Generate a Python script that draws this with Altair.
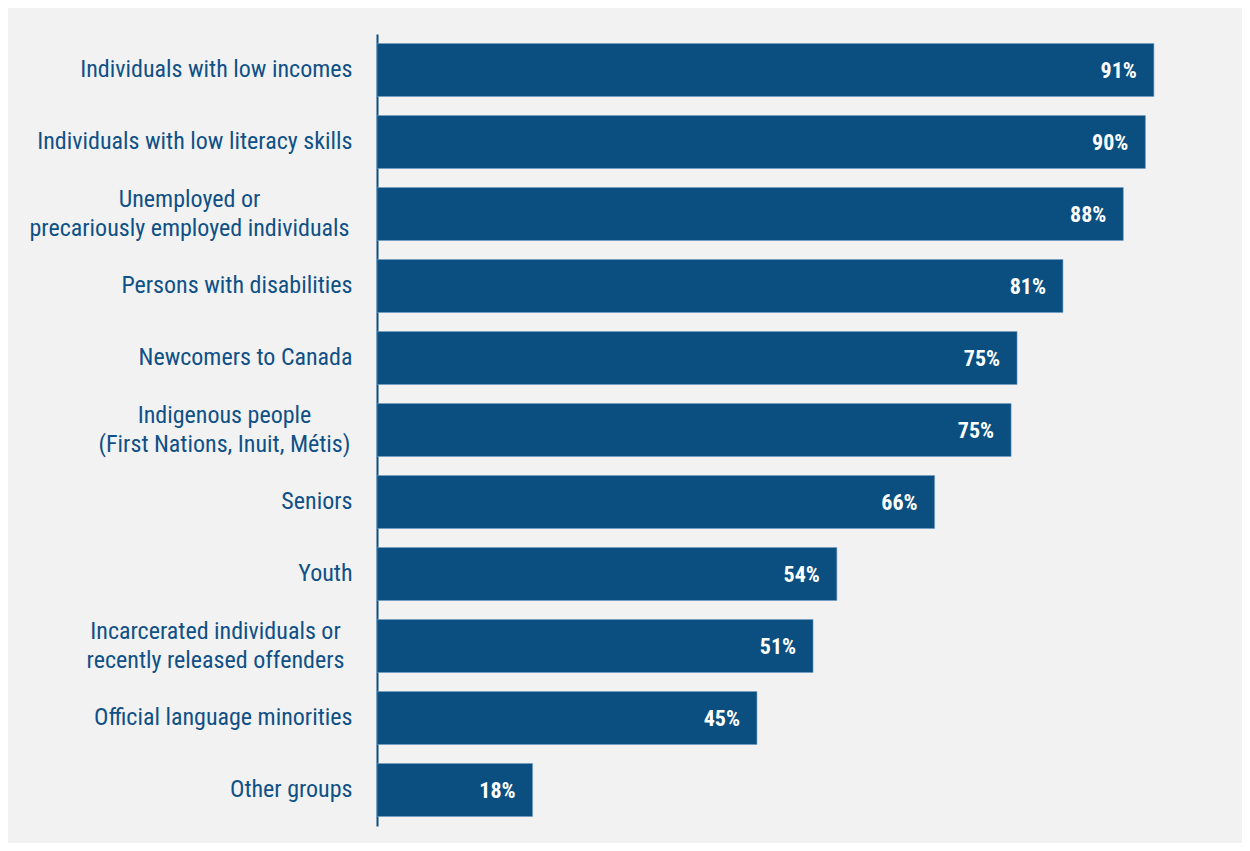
import altair as alt
import pandas as pd

# category label lines (multi-line labels are lists of lines)
label_lines = [
    ["Individuals with low incomes"],
    ["Individuals with low literacy skills"],
    ["Unemployed or", "precariously employed individuals"],
    ["Persons with disabilities"],
    ["Newcomers to Canada"],
    ["Indigenous people", "(First Nations, Inuit, Métis)"],
    ["Seniors"],
    ["Youth"],
    ["Incarcerated individuals or", "recently released offenders"],
    ["Official language minorities"],
    ["Other groups"],
]
values = [91.4, 90.4, 87.8, 80.7, 75.3, 74.6, 65.6, 54.1, 51.3, 44.7, 18.3]
value_labels = ["91%", "90%", "88%", "81%", "75%", "75%", "66%", "54%", "51%", "45%", "18%"]

keys = [" / ".join(l) for l in label_lines]

df = pd.DataFrame({"group": keys, "value": values, "label": value_labels})

label_expr = "split(datum.value, ' / ')"

# multi-line labels are centred blocks; distance of block centre from the axis
multi_centre = {
    keys[2]: 188,
    keys[5]: 153,
    keys[8]: 162,
}
pad_cond = {
    "condition": [
        {"test": "datum.value == '{}'".format(k), "value": v}
        for k, v in multi_centre.items()
    ],
    "value": 25,
}
align_cond = {
    "condition": {"test": "indexof(datum.value, ' / ') >= 0", "value": "center"},
    "value": "right",
}
offset_cond = {
    "condition": {"test": "indexof(datum.value, ' / ') >= 0", "value": -14},
    "value": 0,
}

FONT = "Liberation Sans Narrow, Arial Narrow, Roboto Condensed, Liberation Sans, Arial, sans-serif"
BAR = "#0a4f80"
TXT = "#0f5087"

y = alt.Y(
    "group:N",
    sort=keys,
    scale=alt.Scale(paddingInner=0.264, paddingOuter=0.132),
    axis=alt.Axis(
        title=None,
        labelExpr=label_expr,
        labelFont=FONT,
        labelFontSize=24,
        labelColor=TXT,
        labelPadding=pad_cond,
        labelAlign=align_cond,
        labelOffset=offset_cond,
        labelLineHeight=29,
        labelLimit=400,
        ticks=False,
        domainColor=BAR,
        domainWidth=2,
        grid=False,
    ),
)
x = alt.X("value:Q", scale=alt.Scale(domain=[0, 100]), axis=None)

bars = alt.Chart(df).mark_bar(color=BAR, stroke="#6f9cc4", strokeWidth=0.6).encode(x=x, y=y)
text = alt.Chart(df).mark_text(
    align="right", baseline="middle", dx=-17, dy=1,
    color="white", font=FONT, fontSize=22, fontWeight="bold",
).encode(x=x, y=alt.Y("group:N", sort=keys), text="label:N")

chart = (
    alt.layer(bars, text)
    .properties(
        width=850,
        height=792,
        background="#f2f2f2",
        padding={"left": 369, "top": 26, "right": 15, "bottom": 17},
        autosize=alt.AutoSizeParams(type="none"),
    )
    .configure_view(stroke=None)
)

chart.save("out.html", embed_options={"renderer": "svg", "actions": False})
